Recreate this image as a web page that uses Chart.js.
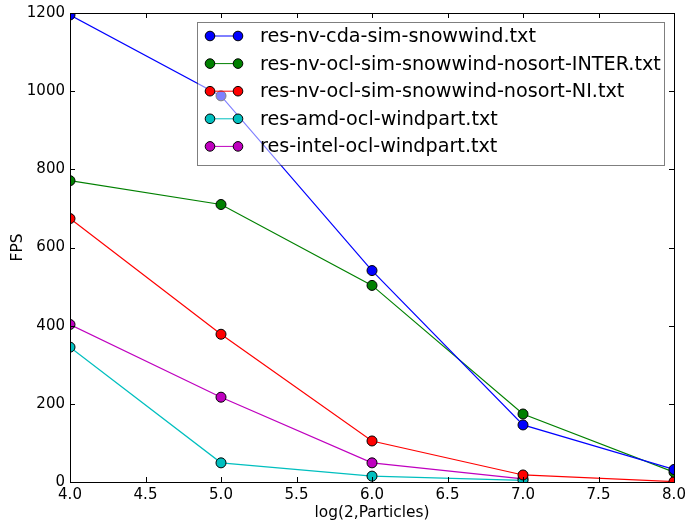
<!DOCTYPE html>
<html lang="en">
<head>
    <meta charset="UTF-8">
    <title>FPS vs particles</title>
    <script src="https://cdn.jsdelivr.net/npm/chart.js"></script>
    <style>
        html, body { margin: 0; padding: 0; background: #fff; }
        #wrap { width: 686px; height: 524px; }
    </style>
</head>
<body>
    <div id="wrap"><canvas id="fpsChart" width="686" height="524"></canvas></div>

    <script>
        // log2 of particle count
        const xValues = [4, 5, 6, 7, 8];

        const seriesNames = [
            'res-nv-cda-sim-snowwind.txt',
            'res-nv-ocl-sim-snowwind-nosort-INTER.txt',
            'res-nv-ocl-sim-snowwind-nosort-NI.txt',
            'res-amd-ocl-windpart.txt',
            'res-intel-ocl-windpart.txt'
        ];
        const seriesColors = ['#0000ff', '#008000', '#ff0000', '#00bfbf', '#bf00bf'];

        const cdaSnowwind   = [1195, 988, 541, 146, 32];
        const oclInter      = [771, 710, 503, 174, 25];
        const oclNI         = [674, 378, 105, 18, 1];
        const amdWindpart   = [345, 49, 15, 4];
        const intelWindpart = [403, 217, 49, 8];

        const seriesValues = [cdaSnowwind, oclInter, oclNI, amdWindpart, intelWindpart];

        const FONT = 'DejaVu Sans';

        // matplotlib-style inward ticks on all four sides + frame
        const frameTicks = {
            id: 'frameTicks',
            afterDatasetsDraw(chart) {
                const { ctx, chartArea: a, scales } = chart;
                ctx.save();
                ctx.strokeStyle = '#000';
                ctx.lineWidth = 1;
                ctx.beginPath();
                scales.x.ticks.forEach(t => {
                    const px = Math.round(scales.x.getPixelForValue(t.value)) + 0.5;
                    ctx.moveTo(px, a.bottom); ctx.lineTo(px, a.bottom - 5);
                    ctx.moveTo(px, a.top); ctx.lineTo(px, a.top + 5);
                });
                scales.y.ticks.forEach(t => {
                    const py = Math.round(scales.y.getPixelForValue(t.value)) + 0.5;
                    ctx.moveTo(a.left, py); ctx.lineTo(a.left + 5, py);
                    ctx.moveTo(a.right, py); ctx.lineTo(a.right - 5, py);
                });
                ctx.stroke();
                ctx.strokeRect(Math.round(a.left) + 0.5, Math.round(a.top) + 0.5,
                    Math.round(a.right - a.left), Math.round(a.bottom - a.top));
                ctx.restore();
            }
        };

        // legend box drawn over the lines, half transparent like matplotlib
        const boxLegend = {
            id: 'boxLegend',
            afterDatasetsDraw(chart) {
                const ctx = chart.ctx;
                const bx = 197.5, by = 22.5, bw = 467, bh = 143;
                ctx.save();
                ctx.fillStyle = 'rgba(255,255,255,0.5)';
                ctx.fillRect(bx, by, bw, bh);
                ctx.strokeStyle = 'rgba(0,0,0,0.5)';
                ctx.lineWidth = 1;
                ctx.strokeRect(bx, by, bw, bh);
                ctx.font = '19.2px "' + FONT + '"';
                ctx.textBaseline = 'middle';
                seriesNames.forEach((name, i) => {
                    const y = 36 + i * 27.6;
                    ctx.strokeStyle = seriesColors[i];
                    ctx.beginPath();
                    ctx.moveTo(210, y); ctx.lineTo(238, y);
                    ctx.stroke();
                    [210, 238].forEach(x => {
                        ctx.beginPath();
                        ctx.arc(x, y, 4.8, 0, Math.PI * 2);
                        ctx.fillStyle = seriesColors[i];
                        ctx.fill();
                        ctx.strokeStyle = '#000';
                        ctx.stroke();
                    });
                    ctx.fillStyle = '#000';
                    ctx.fillText(name, 260, y + 1);
                });
                ctx.restore();
            }
        };

        new Chart(document.getElementById('fpsChart').getContext('2d'), {
            type: 'line',
            data: {
                datasets: seriesNames.map((name, i) => ({
                    label: name,
                    data: seriesValues[i].map((v, j) => ({ x: xValues[j], y: v })),
                    borderColor: seriesColors[i],
                    backgroundColor: seriesColors[i],
                    borderWidth: 1.2,
                    pointRadius: 5,
                    pointBorderColor: '#000',
                    pointBorderWidth: 1,
                    pointBackgroundColor: seriesColors[i],
                    tension: 0,
                    clip: 0
                }))
            },
            options: {
                responsive: false,
                animation: false,
                events: [],
                layout: { padding: { top: 13, right: 12, left: 0, bottom: 0 } },
                plugins: {
                    legend: { display: false },
                    tooltip: { enabled: false }
                },
                scales: {
                    x: {
                        type: 'linear',
                        min: 4, max: 8,
                        grid: { display: false, drawTicks: false },
                        border: { display: false },
                        ticks: {
                            stepSize: 0.5,
                            padding: 4,
                            color: '#000',
                            font: { family: FONT, size: 15 },
                            callback: v => v.toFixed(1)
                        },
                        title: {
                            display: true,
                            text: 'log(2,Particles)',
                            color: '#000',
                            font: { family: FONT, size: 15.4 },
                            padding: { top: 2, bottom: 2 }
                        },
                        afterFit(scale) {
                            scale.height = 42;
                            scale.paddingLeft = 0;
                            scale.paddingRight = 0;
                        }
                    },
                    y: {
                        min: 0, max: 1200,
                        grid: { display: false, drawTicks: false },
                        border: { display: false },
                        ticks: {
                            stepSize: 200,
                            padding: 5,
                            color: '#000',
                            font: { family: FONT, size: 15 },
                            callback: v => String(v)
                        },
                        title: {
                            display: true,
                            text: 'FPS',
                            color: '#000',
                            font: { family: FONT, size: 15.4 },
                            padding: { top: 9, bottom: 0 }
                        },
                        afterFit(scale) {
                            scale.width = 70;
                            scale.paddingTop = 0;
                            scale.paddingBottom = 0;
                        }
                    }
                }
            },
            plugins: [frameTicks, boxLegend]
        });
    </script>
</body>
</html>
